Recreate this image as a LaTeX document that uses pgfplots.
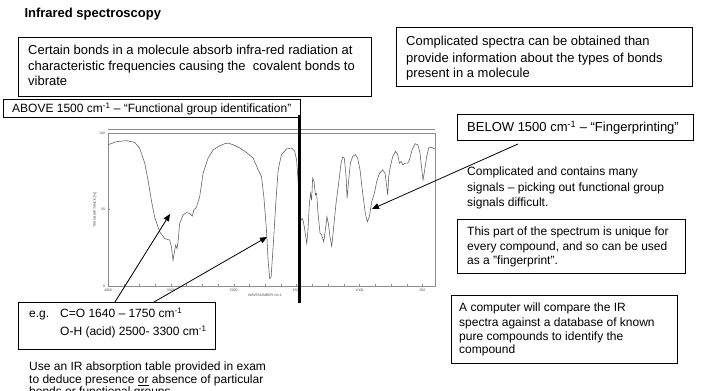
\documentclass[border=0pt]{standalone}
\usepackage{pgfplots}
\pgfplotsset{compat=1.18}
\usepackage{pgfplotstable}
\usepackage{fontspec}
\setmainfont{Liberation Sans}
\usetikzlibrary{arrows.meta}

\pgfplotstableread{
wn T
4000 92.3
3868 94.3
3708 95.0
3576 93.9
3496 90.0
3416 80.3
3364 69.4
3310 56.0
3258 45.0
3178 35.4
3098 31.0
3018 30.0
2992 25.6
2966 16.8
2944 22.3
2924 26.7
2902 24.5
2886 28.9
2860 41.0
2806 46.4
2754 48.0
2700 47.5
2658 45.7
2636 49.7
2594 51.4
2542 58.4
2488 73.7
2408 83.6
2328 89.0
2222 91.7
2144 93.0
2090 93.4
2010 92.3
1952 90.2
1899 87.3
1846 83.6
1806 75.9
1780 71.6
1761 58.4
1740 36.5
1727 16.8
1714 4.8
1703 5.9
1687 25.6
1666 54.0
1647 75.9
1621 85.8
1581 89.5
1541 90.2
1515 88.0
1500 82.0
1488 68.0
1476 50.0
1466 43.0
1452 44.0
1439 38.7
1420 27.8
1410 36.5
1399 54.0
1389 60.6
1381 56.0
1373 70.5
1362 68.3
1351 59.5
1341 60.6
1330 47.5
1314 34.4
1301 33.3
1285 28.9
1272 36.5
1259 45.3
1248 40.9
1235 32.2
1221 26.0
1208 36.5
1187 54.0
1166 67.2
1147 80.3
1134 84.2
1121 83.6
1107 71.6
1099 57.3
1086 69.4
1073 80.3
1054 84.7
1033 85.8
1015 83.6
996 75.9
975 60.6
954 47.5
938 42.0
922 45.3
903 55.1
882 60.6
863 68.3
842 73.7
816 75.9
797 73.7
784 65.0
776 59.5
768 71.6
755 78.1
736 84.7
715 88.0
696 85.8
683 80.3
670 81.4
656 79.2
638 80.3
617 80.3
603 82.5
582 89.0
558 93.0
537 92.3
519 86.9
505 75.9
495 69.4
484 74.8
466 84.7
450 90.2
431 90.8
404 89.5
}\spectrum

\begin{document}
\begin{tikzpicture}[x=1pt,y=1pt]
\path[use as bounding box] (0,0) rectangle (705,391);

\begin{axis}[
  at={(108pt,105pt)}, anchor=south west,
  scale only axis, width=327pt, height=153pt,
  xmin=0, xmax=2600, ymin=0, ymax=100,
  axis line style={draw=black!45, line width=0.6pt},
  xtick={0,500,1000,1500,2000,2500},
  xticklabels={4000,3000,2000,1500,1000,500},
  minor x tick num=3,
  ytick={0,50,100},
  xtick pos=left, ytick pos=left,
  major tick length=2pt, minor tick length=1.5pt,
  every tick/.style={black!45, line width=0.4pt},
  tick label style={font=\fontsize{3.5}{4}\selectfont, text=black!70},
  /pgf/number format/assume math mode=true,
  /pgf/number format/1000 sep={},
  xticklabel style={yshift=0.5pt},
  yticklabel style={xshift=0.5pt},
]
\addplot[draw=black!65, line width=0.55pt, no marks,
  x filter/.expression={x>2000 ? (4000-x)/2 : 3000-x}]
  table[x=wn, y=T] {\spectrum};
\end{axis}

% extra top rule of the spectrum frame
\draw[black!45, line width=0.6pt] (108,262) -- (435,262);
\node[font=\fontsize{3.5}{4}\selectfont, text=black!70] at (265,96) {WAVENUMBER cm-1};
\node[font=\fontsize{3.5}{4}\selectfont, text=black!70, rotate=90] at (95,181) {TRANSMITTANCE [\%]};

% title
\node[anchor=base west, inner sep=0, font=\fontsize{13}{16}\bfseries] at (24.3,373.7) {Infrared spectroscopy};

% box 1
\draw[line width=0.8pt] (18,354) rectangle (371,295);
\begin{scope}[every node/.style={anchor=base west, inner sep=0, font=\fontsize{13}{16}\selectfont}]
\node at (28,336) {Certain bonds in a molecule absorb infra-red radiation at};
\node at (28,320.7) {characteristic frequencies causing the\ \ covalent bonds to};
\node at (28,305.7) {vibrate};
\end{scope}

% ABOVE box
\draw[line width=0.8pt] (3,292) rectangle (300,274);
\node[anchor=base west, inner sep=0, font=\fontsize{12}{14}\selectfont] at (12,278.5) {ABOVE 1500 cm\textsuperscript{-1} – “Functional group identification"};

% black separator bar
\draw[line width=3pt] (299.5,276) -- (299.5,88);

% right top box
\draw[line width=0.8pt] (396,363.7) rectangle (692,305);
\begin{scope}[every node/.style={anchor=base west, inner sep=0, font=\fontsize{13}{16}\selectfont}]
\node at (406,345) {Complicated spectra can be obtained than};
\node at (406,328.7) {provide information about the types of bonds};
\node at (406,313.3) {present in a molecule};
\end{scope}

% BELOW box
\draw[line width=0.8pt] (457,276.7) rectangle (693,251);
\node[anchor=base west, inner sep=0, font=\fontsize{13}{16}\selectfont] at (467,259.3) {BELOW 1500 cm\textsuperscript{-1} – “Fingerprinting”};

% free text
\begin{scope}[every node/.style={anchor=base west, inner sep=0, font=\fontsize{12}{15}\selectfont}]
\node at (467,215) {Complicated and contains many};
\node at (467,199.3) {signals – picking out functional group};
\node at (467,184.3) {signals difficult.};
\end{scope}

% fingerprint box
\draw[line width=0.8pt] (457,172) rectangle (685,118);
\begin{scope}[every node/.style={anchor=base west, inner sep=0, font=\fontsize{12}{15}\selectfont}]
\node at (467,155) {This part of the spectrum is unique for};
\node at (467,140.3) {every compound, and so can be used};
\node at (467,126) {as a "fingerprint".};
\end{scope}

% computer box
\draw[line width=0.8pt] (451,96) rectangle (677,28);
\begin{scope}[every node/.style={anchor=base west, inner sep=0, font=\fontsize{12}{15}\selectfont}]
\node at (459,79.3) {A computer will compare the IR};
\node at (459,64.3) {spectra against a database of known};
\node at (459,50.3) {pure compounds to identify the};
\node at (459,37) {compound};
\end{scope}

% e.g. box
\draw[line width=0.8pt] (18,89) rectangle (215,42);
\begin{scope}[every node/.style={anchor=base west, inner sep=0, font=\fontsize{12}{15}\selectfont}]
\node at (29,73) {e.g.};
\node at (60,73) {C=O 1640 – 1750 cm\textsuperscript{-1}};
\node at (60,55) {O-H (acid) 2500- 3300 cm\textsuperscript{-1}};
\end{scope}

% bottom text
\begin{scope}[every node/.style={anchor=base west, inner sep=0, font=\fontsize{12}{15}\selectfont}]
\node at (29,20.3) {Use an IR absorption table provided in exam};
\node at (29,7.7) {to deduce presence \underline{or} absence of particular};
\node at (29,-5) {bonds or functional groups};
\end{scope}

% arrows
\begin{scope}[line width=0.8pt, -{Triangle[length=7pt,width=6pt]}]
\draw (115,89) -- (170,177);
\draw (154,89) -- (267,154);
\draw (518,247) -- (372,182);
\end{scope}
\end{tikzpicture}
\end{document}
